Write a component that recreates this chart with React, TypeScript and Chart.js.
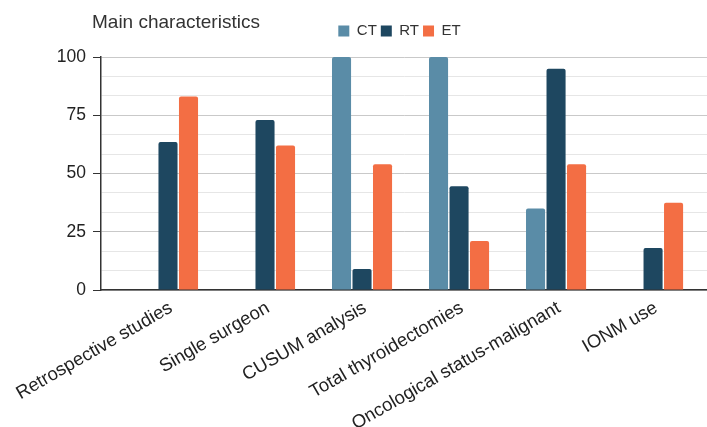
import React, { useEffect, useRef } from "react";
import { Chart, registerables } from "chart.js";

Chart.register(...registerables);

const categories: string[] = [
  "Retrospective studies",
  "Single surgeon",
  "CUSUM analysis",
  "Total thyroidectomies",
  "Oncological status-malignant",
  "IONM use",
];
const seriesNames: string[] = ["CT", "RT", "ET"];
const ctValues: number[] = [0, 0, 100, 100, 35, 0];
const rtValues: number[] = [63.5, 73, 9, 44.5, 95, 18];
const etValues: number[] = [83, 62, 54, 21, 54, 37.5];
const yTickLabels: number[] = [0, 25, 50, 75, 100];
const minorPerMajor = 3;
const titleText = "Main characteristics";

const colors = ["#5a8ca7", "#1e4760", "#f36e44"];
const FONT = "'Liberation Sans', Arial, Helvetica, sans-serif";

export default function App() {
  const ref = useRef<HTMLCanvasElement | null>(null);

  useEffect(() => {
    document.body.style.margin = "0";
    if (!ref.current) return;
    const series = [ctValues, rtValues, etValues];
    const isMajor = (v: number) => yTickLabels.some((t) => Math.abs(t - v) < 1e-6);

    const headerLayout = {
      id: "headerLayout",
      beforeInit(chart: any) {
        const orig = chart.legend.fit;
        chart.legend.fit = function fit() {
          orig.call(this);
          this.height += 8.4;
        };
      },
      afterLayout(chart: any) {
        if (chart.legend) chart.legend.left = 92;
        if (chart.titleBlock) chart.titleBlock.left = 92;
      },
    };

    const chart = new Chart(ref.current, {
      type: "bar",
      data: {
        datasets: series.map((vals, s) => ({
          label: seriesNames[s],
          data: vals.map((v, i) => ({ x: i, y: v })),
          backgroundColor: colors[s],
          borderWidth: 0,
          borderRadius: 2,
          categoryPercentage: 0.634,
          barPercentage: 0.93,
        })),
      },
      options: {
        animation: false,
        responsive: false,
        maintainAspectRatio: false,
        layout: { padding: { left: 0, right: 0, top: 0, bottom: 0 } },
        plugins: {
          title: {
            display: true,
            text: titleText,
            align: "start",
            color: "#333",
            font: { family: FONT, size: 19, weight: "normal" },
            padding: { top: 11, bottom: -14.2 },
          },
          legend: {
            display: true,
            position: "top",
            align: "center",
            labels: {
              boxWidth: 11,
              boxHeight: 11,
              padding: 4,
              color: "#333",
              font: { family: FONT, size: 15 },
            },
          },
          tooltip: { enabled: false },
        },
        scales: {
          x: {
            type: "linear",
            min: -0.6907,
            max: 5.556,
            offset: false,
            grid: { display: false },
            border: { display: true, color: "#333", width: 1.5 },
            afterFit(scale: any) {
              scale.height = 137;
            },
            ticks: {
              stepSize: 1,
              includeBounds: false,
              autoSkip: false,
              maxRotation: 30,
              minRotation: 30,
              padding: -1,
              labelOffset: 3,
              color: "#222",
              font: { family: FONT, size: 18.5 },
              callback: (v: any) => (Number.isInteger(v) ? categories[v] ?? "" : ""),
            },
          },
          y: {
            min: 0,
            max: 100,
            afterFit(scale: any) {
              scale.width = 101;
            },
            afterBuildTicks(scale: any) {
              const ticks: { value: number }[] = [];
              yTickLabels.forEach((t, i) => {
                ticks.push({ value: t });
                const next = yTickLabels[i + 1];
                if (next !== undefined) {
                  for (let k = 1; k < minorPerMajor; k++) {
                    ticks.push({ value: t + ((next - t) * k) / minorPerMajor });
                  }
                }
              });
              scale.ticks = ticks;
            },
            border: { display: true, color: "#333", width: 1.5 },
            grid: {
              color: (ctx: any) => (isMajor(ctx.tick.value) ? "#c9c9c9" : "#e6e6e6"),
              tickColor: (ctx: any) => (isMajor(ctx.tick.value) ? "#333" : "rgba(0,0,0,0)"),
              tickLength: 8,
              lineWidth: 1,
            },
            ticks: {
              autoSkip: false,
              padding: 7,
              color: "#222",
              font: { family: FONT, size: 17.5 },
              callback: (v: any) => {
                const n = Number(v);
                return isMajor(n) ? String(Math.round(n)) : "";
              },
            },
          },
        },
      },
      plugins: [headerLayout],
    } as any);
    return () => chart.destroy();
  }, []);

  return (
    <div style={{ width: 707, height: 427, position: "relative" }}>
      <canvas ref={ref} width={707} height={427} style={{ display: "block", width: 707, height: 427 }} />
    </div>
  );
}
